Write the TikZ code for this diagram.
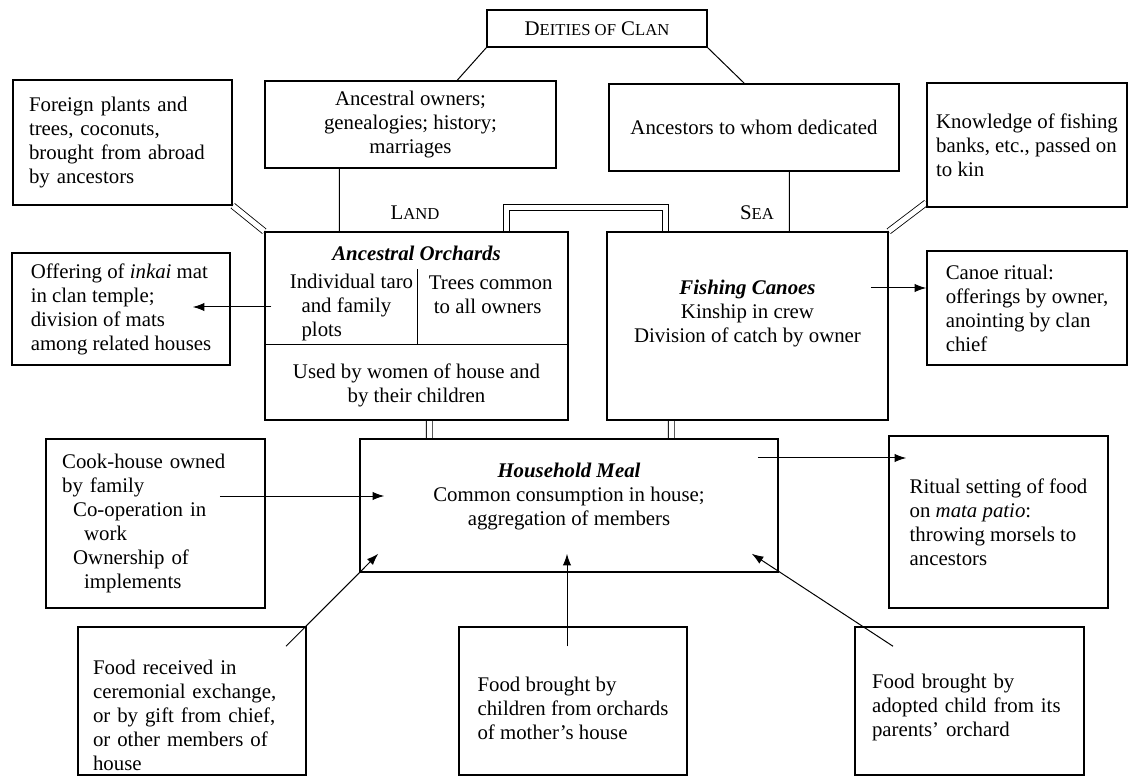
\documentclass[tikz,border=0pt]{standalone}
\usepackage{fontspec}
\setmainfont{Liberation Serif}
\usepackage{tikz}
\usetikzlibrary{arrows.meta,calc,backgrounds}
\newcommand{\smc}[1]{{\fontsize{10}{12}\selectfont #1}}
\newcommand{\padtop}[1]{\rule{0pt}{#1}}
\newcommand{\padbot}[1]{\rule[-#1]{0pt}{#1}}

\begin{document}
\begin{tikzpicture}[x=0.6pt,y=-0.6pt,>={Latex[length=7pt,width=5pt]},
  font=\fontsize{12.5}{14.4}\selectfont,
  box/.style={draw,line width=0.9pt,inner sep=0pt},
  link/.style={line width=0.6pt},
  dbl/.style={double,double distance=3pt,line width=0.5pt}]
  \useasboundingbox (0,0) rectangle (1137,777);

  % top row
  \node[box,minimum width=132pt,minimum height=22.2pt] (deities) at (597,28.5) {D\smc{EITIES OF} C\smc{LAN}};
  \node[box,minimum width=174.6pt,minimum height=52.2pt,align=center] (owners) at (410.5,124.5) {Ancestral owners;\\genealogies; history;\\marriages};
  \node[box,minimum width=174pt,minimum height=52.2pt] (ancestors) at (754,127.5) {Ancestors to whom dedicated};
  \node[box,minimum width=120pt,minimum height=74.4pt,align=left] (knowledge) at (1027,145) {Knowledge of fishing\\banks, etc., passed on\\to kin};
  \node[box,minimum width=131.4pt,minimum height=75pt,text width=112.2pt,align=left] (foreign) at (122.5,142.5) {Foreign plants and\\trees, coconuts,\\brought from abroad\\by ancestors};

  % land and sea
  \node (land) at (415,213) {L\smc{AND}};
  \node (sea) at (757,213) {S\smc{EA}};
  \node[box,minimum width=130.8pt,minimum height=67.2pt,align=left] (offering) at (121,309) {Offering of \textit{inkai} mat\\in clan temple;\\division of mats\\among related houses};
  \node[box,minimum width=181.8pt,minimum height=112.8pt] (orchards) at (416.5,326) {};
  \node (orctitle) at (416.5,253) {\textbf{\textit{Ancestral Orchards}}};
  \coordinate (split) at (417,345);
  \draw[link] (orchards.west |- split) -- (orchards.east |- split);
  \draw[link] (split) -- ++(0,-76);
  \node[anchor=west,align=left] (plots) at (284,307) {Individual taro\\\hspace*{7pt}and family\\\hspace*{7pt}plots};
  \node[anchor=west,align=left] (trees) at (423,295) {Trees common\\\hspace*{3pt}to all owners};
  \node[align=center] (women) at (416.5,385.5) {Used by women of house and\\by their children};
  \node[box,minimum width=168.6pt,minimum height=112.8pt,align=center] (canoes) at (747.5,326) {\textbf{\textit{Fishing Canoes}}\\Kinship in crew\\Division of catch by owner\padbot{18pt}};
  \node[box,minimum width=120pt,minimum height=68.4pt,align=left] (canoeritual) at (1027,308) {Canoe ritual:\\offerings by owner,\\anointing by clan\\chief};

  % household
  \node[box,minimum width=250.8pt,minimum height=79.8pt,align=center] (meal) at (569,505.5) {\textbf{\textit{Household Meal}}\\Common consumption in house;\\aggregation of members\padbot{13pt}};
  \node[box,minimum width=131.4pt,minimum height=101.4pt,text width=112pt,align=left] (cookhouse) at (155.5,523.5) {Cook-house owned\\by family\\\hspace*{6.6pt}Co-operation in\\\hspace*{13.2pt}work\\\hspace*{6.6pt}Ownership of\\\hspace*{13.2pt}implements};
  \node[box,minimum width=131.4pt,minimum height=103.2pt,align=left] (ritualmeal) at (998.5,522) {Ritual setting of food\\on \textit{mata patio}:\\throwing morsels to\\ancestors};

  % food coming in
  \node[box,minimum width=136.8pt,minimum height=88.8pt,text width=118.8pt,align=left] (foodgift) at (192,701) {\padtop{26pt}Food received in\\ceremonial exchange,\\or by gift from chief,\\or other members of\\house};
  \node[box,minimum width=136.8pt,minimum height=88.8pt,align=left] (foodkids) at (573,701) {\padtop{17pt}Food brought by\\children from orchards\\of mother's house};
  \node[box,minimum width=137.4pt,minimum height=88.8pt,text width=117pt,align=left] (foodadopt) at (969.5,701) {\padtop{17pt}Food brought by\\adopted child from its\\parents' orchard};

  \draw[link] (deities.south west) -- ($(owners.north west)+(193,0)$);
  \draw[link] (deities.south east) -- ($(ancestors.north west)+(136,0)$);
  \draw[link] ($(owners.south west)+(75,0)$) -- ($(orchards.north west)+(75,0)$);
  \draw[link] ($(ancestors.south west)+(181,0)$) -- ($(canoes.north west)+(183,0)$);

  \begin{scope}[on background layer]
    \draw[dbl] (foreign.south east) -- (orchards.north west);
    \draw[dbl] (canoes.north east) -- ($(knowledge.south west)+(0,-5)$);
    \draw[dbl] ($(orchards.north west)+(242,0)$) -- ++(0,-24) -| ($(canoes.north west)+(59,0)$);
    \draw[dbl] ($(orchards.south west)+(165,0)$) -- ($(meal.north west)+(70,0)$);
    \draw[dbl] ($(canoes.south west)+(65,0)$) -- ($(meal.north west)+(312,0)$);
  \end{scope}

  \draw[->,link] ($(orchards.west)+(7,-19)$) -- ($(offering.east)+(-38,-2)$);
  \draw[->,link] ($(canoes.east)+(-18,-38)$) -- ($(canoeritual.west)+(0,-20)$);
  \draw[->,link] ($(cookhouse.east)+(-46,-27.5)$) -- ($(meal.west)+(25,-9.5)$);
  \draw[->,link] ($(meal.east)+(-21,-47.5)$) -- ($(ritualmeal.west)+(18,-64)$);
  \draw[->,link] ($(foodgift.north)+(94,20)$) -- ($(meal.south west)+(19,-19)$);
  \draw[->,link] ($(foodkids.north)+(-6,20)$) -- ($(meal.south)+(-2,-19)$);
  \draw[->,link] ($(foodadopt.north)+(-76.5,20)$) -- ($(meal.south east)+(-27,-19)$);
\end{tikzpicture}
\end{document}
